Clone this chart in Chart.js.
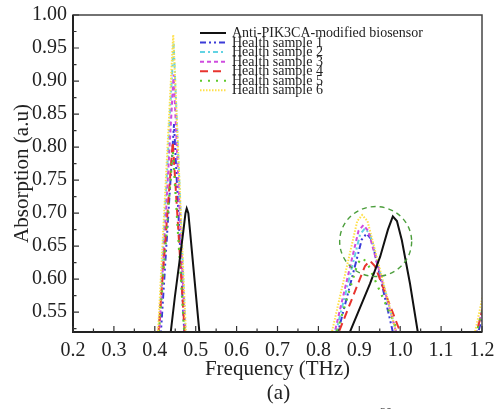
<!DOCTYPE html>
<html>
<head>
<meta charset="utf-8">
<script src="https://cdn.jsdelivr.net/npm/chart.js@4.4.1/dist/chart.umd.min.js"></script>
<style>
  body { margin: 0; background: #fff; }
  canvas { display: block; }
</style>
</head>
<body>
<canvas id="chart" width="494" height="409"></canvas>
<script>
// Valori
const xTicks = [0.2, 0.3, 0.4, 0.5, 0.6, 0.7, 0.8, 0.9, 1.0, 1.1, 1.2];
const yTicks = [0.55, 0.60, 0.65, 0.70, 0.75, 0.80, 0.85, 0.90, 0.95, 1.00];

const seriesNames = [
    "Anti-PIK3CA-modified biosensor",
    "Health sample 1",
    "Health sample 2",
    "Health sample 3",
    "Health sample 4",
    "Health sample 5",
    "Health sample 6"
];

// biosensore
const antiFreq = [0.40, 0.439, 0.449, 0.460, 0.470, 0.475, 0.478, 0.482, 0.486, 0.497, 0.509, 0.55,
                  0.85, 0.877, 0.926, 0.951, 0.970, 0.982, 0.992, 1.004, 1.024, 1.043, 1.08, 1.21];
const antiAbs  = [0.40, 0.52, 0.573, 0.625, 0.674, 0.700, 0.707, 0.700, 0.674, 0.600, 0.52, 0.40,
                  0.40, 0.52, 0.593, 0.634, 0.675, 0.695, 0.688, 0.659, 0.593, 0.52, 0.40, 0.40];

// campioni sani
const hs1Freq = [0.38, 0.415, 0.447, 0.472, 0.50, 0.82, 0.848, 0.906, 0.918, 0.930, 0.982, 1.05, 1.191, 1.21];
const hs1Abs  = [0.40, 0.52, 0.835, 0.52, 0.40, 0.40, 0.52, 0.660, 0.669, 0.660, 0.52, 0.40, 0.52, 0.565];

const hs2Freq = [0.38, 0.410, 0.446, 0.475, 0.50, 0.82, 0.843, 0.902, 0.914, 0.926, 0.990, 1.05, 1.187, 1.21];
const hs2Abs  = [0.40, 0.52, 0.958, 0.52, 0.40, 0.40, 0.52, 0.668, 0.677, 0.668, 0.52, 0.40, 0.52, 0.575];

const hs3Freq = [0.38, 0.411, 0.446, 0.474, 0.50, 0.82, 0.840, 0.898, 0.910, 0.922, 0.990, 1.05, 1.187, 1.21];
const hs3Abs  = [0.40, 0.52, 0.910, 0.52, 0.40, 0.40, 0.52, 0.673, 0.682, 0.673, 0.52, 0.40, 0.52, 0.575];

const hs4Freq = [0.38, 0.409, 0.444, 0.473, 0.50, 0.82, 0.850, 0.914, 0.926, 0.938, 1.000, 1.05, 1.187, 1.21];
const hs4Abs  = [0.40, 0.52, 0.808, 0.52, 0.40, 0.40, 0.52, 0.620, 0.628, 0.620, 0.52, 0.40, 0.52, 0.575];

const hs5Freq = [0.38, 0.410, 0.444, 0.472, 0.50, 0.82, 0.845, 0.896, 0.908, 0.920, 0.995, 1.05, 1.187, 1.21];
const hs5Abs  = [0.40, 0.52, 0.795, 0.52, 0.40, 0.40, 0.52, 0.624, 0.632, 0.624, 0.52, 0.40, 0.52, 0.575];

const hs6Freq = [0.38, 0.408, 0.445, 0.476, 0.50, 0.82, 0.833, 0.895, 0.907, 0.920, 0.990, 1.05, 1.183, 1.21];
const hs6Abs  = [0.40, 0.52, 0.970, 0.52, 0.40, 0.40, 0.52, 0.688, 0.697, 0.688, 0.52, 0.40, 0.52, 0.598];

// cerchio tratteggiato: centro e raggi in unità dei dati
const circleCenter = [0.940, 0.657];
const circleRadius = [0.088, 0.053];

const serif = "'Liberation Serif', 'Times New Roman', serif";

function toPoints(xs, ys) {
    return xs.map((x, i) => ({ x: x, y: ys[i] }));
}

const styles = [
    { color: "#111111", dash: [], width: 2 },
    { color: "#3b3bd8", dash: [6, 3, 2, 3, 2, 3], width: 2 },
    { color: "#62d3e3", dash: [5, 3, 2, 3], width: 2 },
    { color: "#cf4cdf", dash: [4, 3], width: 2 },
    { color: "#e8342e", dash: [8, 5], width: 2 },
    { color: "#5fc92c", dash: [2, 6], width: 2.2 },
    { color: "#ffe04a", dash: [1.5, 1.5], width: 2 }
];

const allData = [
    [antiFreq, antiAbs], [hs1Freq, hs1Abs], [hs2Freq, hs2Abs], [hs3Freq, hs3Abs],
    [hs4Freq, hs4Abs], [hs5Freq, hs5Abs], [hs6Freq, hs6Abs]
];

// il nero va sopra gli altri
const datasets = allData.map((d, i) => ({
    label: seriesNames[i],
    data: toPoints(d[0], d[1]),
    borderColor: styles[i].color,
    borderDash: styles[i].dash,
    borderWidth: styles[i].width,
    pointRadius: 0,
    tension: 0,
    fill: false,
    order: i === 0 ? 0 : 7 - i
}));

// Cornice, tacche interne, legenda, cerchio e didascalia
const decorPlugin = {
    id: "decor",
    afterDatasetsDraw(chart) {
        const { ctx, chartArea: a, scales: { x, y } } = chart;
        ctx.save();

        // cerchio tratteggiato
        const cx = x.getPixelForValue(circleCenter[0]);
        const cy = y.getPixelForValue(circleCenter[1]);
        const rx = Math.abs(x.getPixelForValue(circleCenter[0] + circleRadius[0]) - cx);
        const ry = Math.abs(y.getPixelForValue(circleCenter[1] + circleRadius[1]) - cy);
        ctx.strokeStyle = "#4c9e3c";
        ctx.lineWidth = 1.4;
        ctx.setLineDash([5, 4]);
        ctx.beginPath();
        ctx.ellipse(cx, cy, rx, ry, 0, 0, Math.PI * 2);
        ctx.stroke();
        ctx.setLineDash([]);

        // cornice
        ctx.strokeStyle = "#444";
        ctx.lineWidth = 1.5;
        ctx.strokeRect(a.left, a.top, a.right - a.left, a.bottom - a.top);
        ctx.strokeStyle = "#222";
        ctx.lineWidth = 2;
        ctx.beginPath();
        ctx.moveTo(a.left, a.top);
        ctx.lineTo(a.left, a.bottom);
        ctx.lineTo(a.right, a.bottom);
        ctx.stroke();

        // tacche (maggiori e minori) verso l'interno
        ctx.lineWidth = 1.2;
        ctx.strokeStyle = "#333";
        ctx.beginPath();
        for (let i = 0; i < xTicks.length; i++) {
            const px = x.getPixelForValue(xTicks[i]);
            ctx.moveTo(px, a.bottom);
            ctx.lineTo(px, a.bottom - 6);
            if (i < xTicks.length - 1) {
                const pm = x.getPixelForValue((xTicks[i] + xTicks[i + 1]) / 2);
                ctx.moveTo(pm, a.bottom);
                ctx.lineTo(pm, a.bottom - 3.5);
            }
        }
        for (let i = 0; i < yTicks.length; i++) {
            const py = y.getPixelForValue(yTicks[i]);
            ctx.moveTo(a.left, py);
            ctx.lineTo(a.left + 6, py);
            const pm = y.getPixelForValue(yTicks[i] - 0.025);
            if (pm < a.bottom) {
                ctx.moveTo(a.left, pm);
                ctx.lineTo(a.left + 3.5, pm);
            }
        }
        ctx.stroke();

        // legenda
        const lx = 200, tx = 232, ly = 33, step = 9.55;
        ctx.font = "14px " + serif;
        ctx.textBaseline = "middle";
        ctx.textAlign = "left";
        chart.data.datasets.forEach((ds, i) => {
            const yy = ly + i * step;
            ctx.strokeStyle = ds.borderColor;
            ctx.lineWidth = ds.borderWidth;
            ctx.setLineDash(ds.borderDash);
            ctx.beginPath();
            ctx.moveTo(lx, yy);
            ctx.lineTo(lx + 26, yy);
            ctx.stroke();
            ctx.setLineDash([]);
            ctx.fillStyle = "#222";
            ctx.fillText(ds.label, tx, yy + 0.5);
        });

        // didascalia
        ctx.fillStyle = "#222";
        ctx.textAlign = "center";
        ctx.font = "21px " + serif;
        ctx.fillText("(a)", (a.left + a.right) / 2 + 1, 393);
        ctx.font = "12px " + serif;
        ctx.textBaseline = "alphabetic";
        ctx.fillText("30", 386, 416);

        ctx.restore();
    }
};

const ctx = document.getElementById("chart").getContext("2d");

new Chart(ctx, {
    type: "line",
    data: { datasets: datasets },
    options: {
        responsive: false,
        animation: false,
        devicePixelRatio: 1,
        layout: { padding: { top: 15, right: 12, bottom: 0, left: 0 } },
        plugins: { legend: { display: false }, tooltip: { enabled: false } },
        scales: {
            x: {
                type: "linear",
                min: 0.2,
                max: 1.2,
                grid: { display: false, drawTicks: false },
                border: { display: false },
                afterBuildTicks: s => { s.ticks = xTicks.map(v => ({ value: v })); },
                afterFit: s => { s.height = 77; s.paddingLeft = 0; s.paddingRight = 0; },
                ticks: {
                    font: { family: serif, size: 20 },
                    color: "#222",
                    padding: 7,
                    maxRotation: 0,
                    autoSkip: false,
                    callback: v => v.toFixed(1)
                },
                title: {
                    display: true,
                    text: "Frequency (THz)",
                    font: { family: serif, size: 21 },
                    color: "#222",
                    padding: { top: 0, bottom: 27 }
                }
            },
            y: {
                type: "linear",
                min: 0.52,
                max: 1.0,
                grid: { display: false, drawTicks: false },
                border: { display: false },
                afterBuildTicks: s => { s.ticks = yTicks.map(v => ({ value: v })); },
                afterFit: s => { s.width = 73; s.paddingTop = 0; s.paddingBottom = 0; },
                ticks: {
                    font: { family: serif, size: 20 },
                    color: "#222",
                    padding: 6,
                    autoSkip: false,
                    callback: v => v.toFixed(2)
                },
                title: {
                    display: true,
                    text: "Absorption (a.u)",
                    font: { family: serif, size: 21 },
                    color: "#222",
                    padding: { top: 10, bottom: 0 }
                }
            }
        }
    },
    plugins: [decorPlugin]
});
</script>
</body>
</html>
